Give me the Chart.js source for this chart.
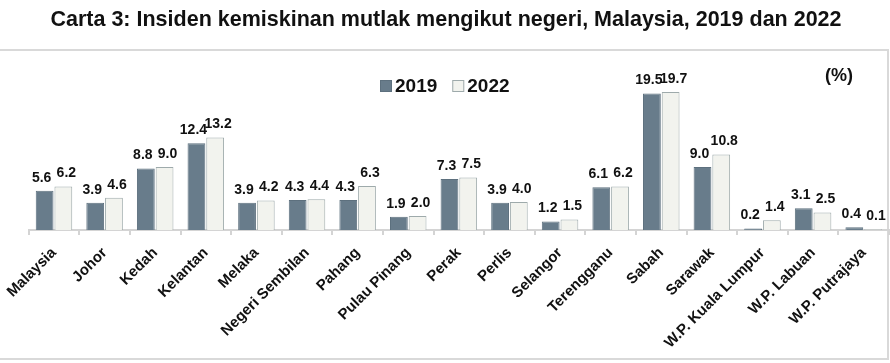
<!DOCTYPE html>
<html>
<head>
<meta charset="utf-8">
<script src="https://cdn.jsdelivr.net/npm/chart.js@4.4.1/dist/chart.umd.min.js"></script>
<style>
  html, body { margin: 0; padding: 0; background: #fff; }
  #wrap { position: relative; width: 890px; height: 363px; }
</style>
</head>
<body>
<div id="wrap"><canvas id="my-chart" width="890" height="363"></canvas></div>
<script>
const states = ['Malaysia', 'Johor', 'Kedah', 'Kelantan', 'Melaka', 'Negeri Sembilan', 'Pahang',
  'Pulau Pinang', 'Perak', 'Perlis', 'Selangor', 'Terengganu', 'Sabah', 'Sarawak',
  'W.P. Kuala Lumpur', 'W.P. Labuan', 'W.P. Putrajaya'];
const values2019 = [5.6, 3.9, 8.8, 12.4, 3.9, 4.3, 4.3, 1.9, 7.3, 3.9, 1.2, 6.1, 19.5, 9.0, 0.2, 3.1, 0.4];
const values2022 = [6.2, 4.6, 9.0, 13.2, 4.2, 4.4, 6.3, 2.0, 7.5, 4.0, 1.5, 6.2, 19.7, 10.8, 1.4, 2.5, 0.1];
const seriesNames = ['2019', '2022'];
const chartTitle = 'Carta 3: Insiden kemiskinan mutlak mengikut negeri, Malaysia, 2019 dan 2022';
const unitLabel = '(%)';

const FONT = '"Liberation Sans", Arial, sans-serif';

document.addEventListener('DOMContentLoaded', () => {
  // title, frame, legend, unit text and value labels
  const extras = {
    id: 'extras',
    beforeDraw(chart) {
      const ctx = chart.ctx;
      ctx.save();
      ctx.strokeStyle = '#d9d9d9';
      ctx.lineWidth = 2;
      ctx.strokeRect(-1, 50, 889, 309);
      ctx.fillStyle = '#111';
      ctx.font = 'bold 21.5px ' + FONT;
      ctx.textAlign = 'center';
      ctx.textBaseline = 'middle';
      ctx.fillText(chartTitle, 446, 20);
      ctx.restore();
    },
    afterDatasetsDraw(chart) {
      const ctx = chart.ctx;
      ctx.save();
      ctx.fillStyle = '#111';
      ctx.font = 'bold 14px ' + FONT;
      ctx.textAlign = 'center';
      ctx.textBaseline = 'bottom';
      const shift = [-3, 3];
      chart.data.datasets.forEach((ds, i) => {
        chart.getDatasetMeta(i).data.forEach((bar, j) => {
          ctx.fillText(ds.data[j].toFixed(1), bar.x + shift[i], bar.y - 6);
        });
      });

      // legend
      ctx.font = 'bold 19px ' + FONT;
      ctx.textAlign = 'left';
      ctx.textBaseline = 'middle';
      let x = 380;
      const y = 86;
      chart.data.datasets.forEach((ds) => {
        ctx.fillStyle = ds.backgroundColor;
        ctx.fillRect(x, y - 6, 12, 12);
        ctx.strokeStyle = ds.borderColor;
        ctx.lineWidth = 1;
        ctx.strokeRect(x + 0.5, y - 5.5, 11, 11);
        ctx.fillStyle = '#111';
        ctx.fillText(ds.label, x + 15, y + 1);
        x += 15 + ctx.measureText(ds.label).width + 15;
      });

      ctx.font = 'bold 18px ' + FONT;
      ctx.textAlign = 'center';
      ctx.fillText(unitLabel, 839, 76);
      ctx.restore();
    }
  };

  const ctx = document.getElementById('my-chart').getContext('2d');
  new Chart(ctx, {
    type: 'bar',
    data: {
      labels: states,
      datasets: [
        {
          label: seriesNames[0],
          data: values2019,
          backgroundColor: '#687c8b',
          borderColor: '#5d707e',
          borderWidth: 1,
          categoryPercentage: 0.74,
          barPercentage: 0.95
        },
        {
          label: seriesNames[1],
          data: values2022,
          backgroundColor: '#f2f3ee',
          borderColor: '#9eaaab',
          borderWidth: 1,
          categoryPercentage: 0.74,
          barPercentage: 0.95
        }
      ]
    },
    options: {
      responsive: false,
      animation: false,
      layout: { padding: { left: 26, right: 1, top: 62, bottom: 0 } },
      plugins: {
        title: { display: false },
        legend: { display: false },
        tooltip: { enabled: false }
      },
      scales: {
        x: {
          afterFit(scale) { scale.height = 133; },
          border: { color: '#d4d4d4', width: 2 },
          grid: { display: true, drawOnChartArea: false, offset: true, tickLength: 5, color: '#d4d4d4', lineWidth: 2 },
          ticks: {
            color: '#111',
            font: { family: FONT, size: 15, weight: 'bold' },
            minRotation: 45,
            maxRotation: 45,
            autoSkip: false,
            padding: 9
          }
        },
        y: {
          display: false,
          min: 0,
          max: 24
        }
      }
    },
    plugins: [extras]
  });
}, false);
</script>
</body>
</html>
